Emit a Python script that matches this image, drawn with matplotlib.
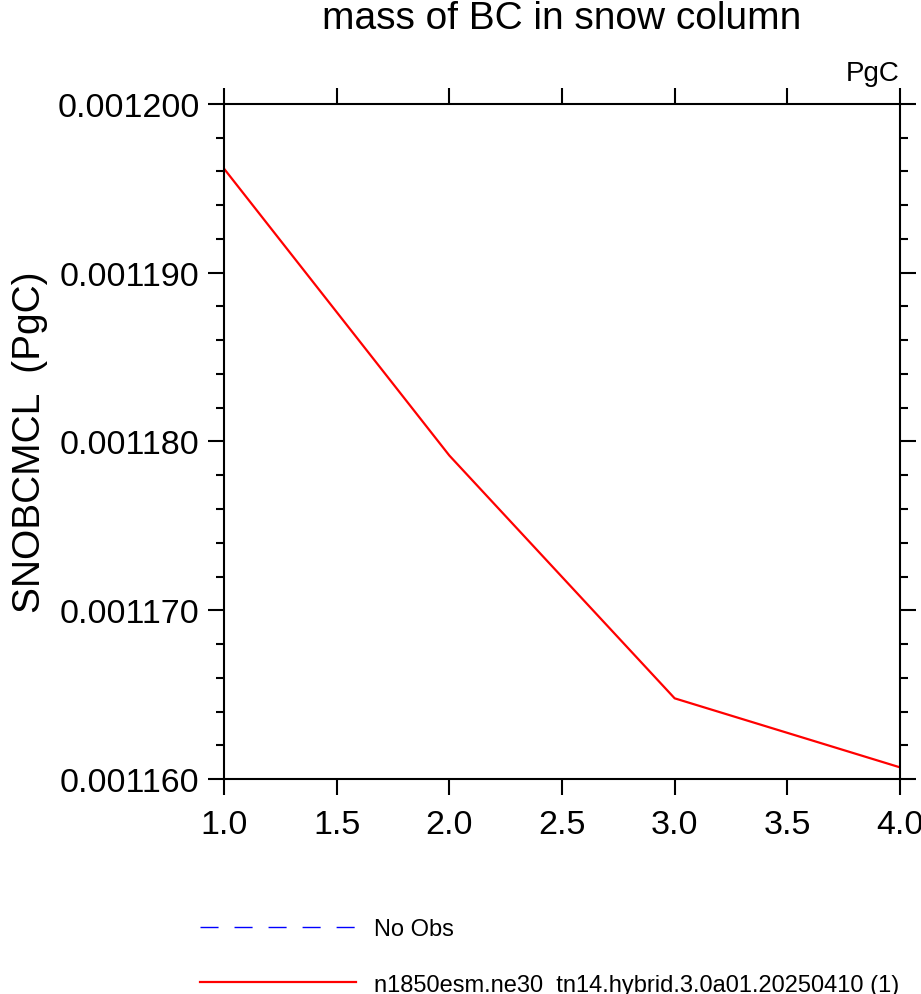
import matplotlib
matplotlib.use("Agg")
import matplotlib.pyplot as plt
from matplotlib.ticker import MultipleLocator, FormatStrFormatter

plt.rcParams['font.family'] = ['Liberation Sans', 'DejaVu Sans']

# data
years = [1, 2, 3, 4]
snobcmcl = [0.00119617, 0.00117917, 0.00116478, 0.00116069]
obs = []
case_name = "n1850esm.ne30_tn14.hybrid.3.0a01.20250410 (1)"

fig = plt.figure(figsize=(9.21, 9.95), dpi=100)
ax = fig.add_axes([224/921, 1 - 780/995, 676/921, 675/995])

obs_line, = ax.plot(obs, obs, color='blue', linewidth=1.0, linestyle=(0, (13, 11.5)), label="No Obs")
case_line, = ax.plot(years, snobcmcl, color='red', linewidth=1.6, label=case_name)

ax.set_xlim(1.0, 4.0)
ax.set_ylim(0.001160, 0.001200)
ax.xaxis.set_major_locator(MultipleLocator(0.5))
ax.xaxis.set_major_formatter(FormatStrFormatter('%.1f'))
ax.yaxis.set_major_locator(MultipleLocator(0.00001))
ax.yaxis.set_minor_locator(MultipleLocator(0.000002))
ax.yaxis.set_major_formatter(FormatStrFormatter('%.6f'))

for s in ax.spines.values():
    s.set_linewidth(1.5)
ax.tick_params(which='major', direction='out', length=11.5, width=1.5, labelsize=24.5,
               top=True, right=True, pad=6)
ax.tick_params(which='minor', direction='out', length=6, width=1.5, right=True)
ax.tick_params(axis='x', which='major', pad=10)

fig.text(562/921, 1 - 19/995, "mass of BC in snow column", ha='center', va='center', fontsize=28)
ax.annotate("PgC", xy=(1, 1), xycoords='axes fraction', xytext=(0, 17), textcoords='offset points',
            ha='right', va='baseline', fontsize=20)
fig.text(30/921, 1 - 442/995, "SNOBCMCL  (PgC)", rotation=90, ha='center', va='center', fontsize=28)

fig.legend(handles=[obs_line, case_line], loc='upper left', bbox_to_anchor=(200/921, 1 - 919/995),
           frameon=False, fontsize=17, handlelength=6.6, handletextpad=0.75, labelspacing=1.42,
           borderpad=0, borderaxespad=0)

fig.savefig("out.png", dpi=100)
